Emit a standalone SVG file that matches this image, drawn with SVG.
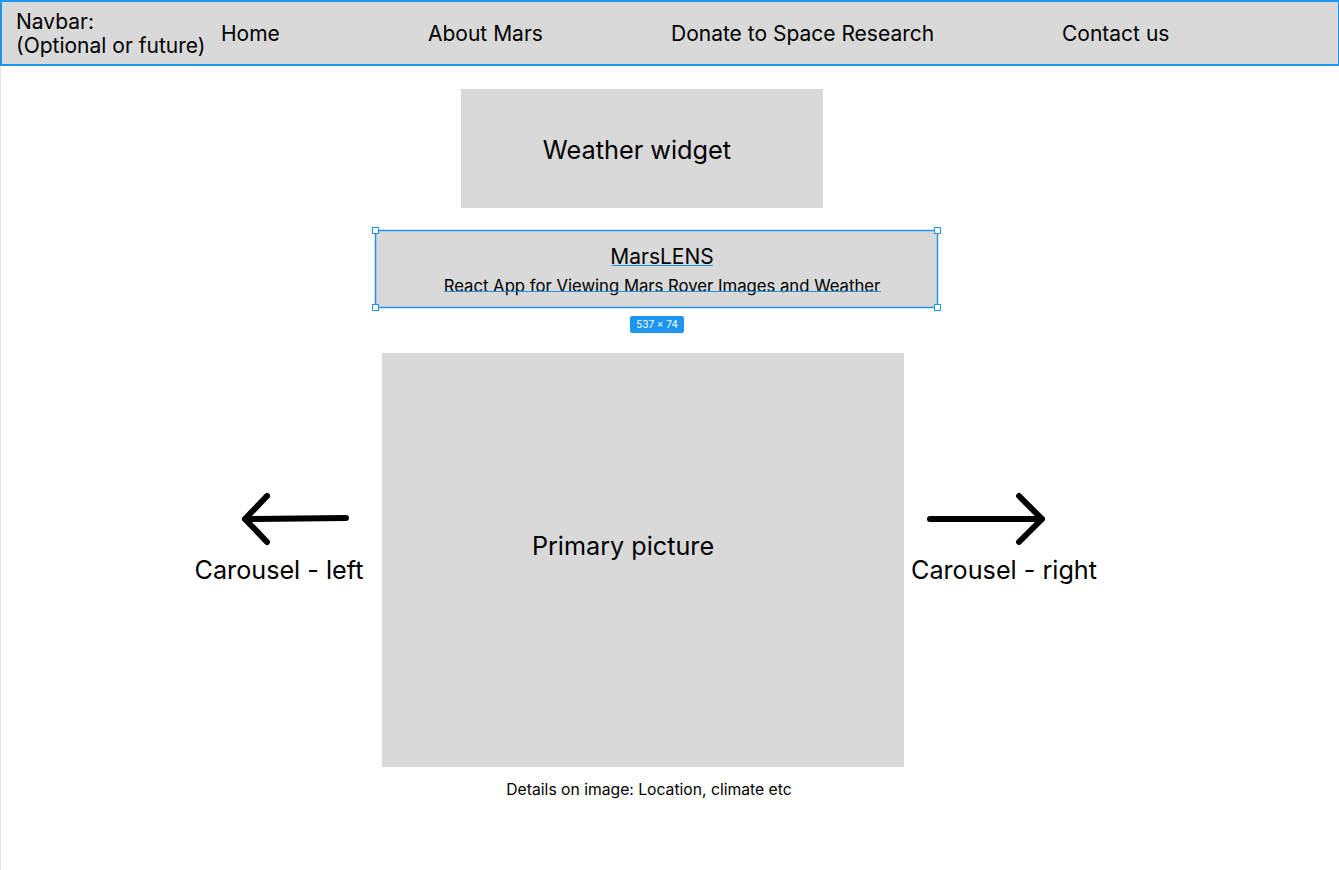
<svg xmlns="http://www.w3.org/2000/svg" width="1339" height="870" viewBox="0 0 1339 870">
<style>
.box{fill:#d9d9d9}
.t{font-family:Inter,"Noto Sans",sans-serif;fill:#000}
.sel{fill:none;stroke:#1e96f0;stroke-width:1.5}
.h{fill:#fff;stroke:#1e96f0;stroke-width:1}
.arr{fill:none;stroke:#000;stroke-width:6;stroke-linecap:round;stroke-linejoin:round}
</style>
<rect x="0" y="0" width="1339" height="870" fill="#fff"/>
<line x1="0.5" y1="0" x2="0.5" y2="870" stroke="#e6e6e6" stroke-width="1"/>
<g id="navbar">
<rect x="1" y="1" width="1338" height="64" class="box" stroke="#1e96f0" stroke-width="2"/>
<text class="t" x="16" y="29" font-size="21">Navbar:</text>
<text class="t" x="16" y="53" font-size="21">(Optional or future)</text>
<text class="t" x="221" y="41" font-size="21">Home</text>
<text class="t" x="428" y="41" font-size="21">About Mars</text>
<text class="t" x="671" y="41" font-size="21">Donate to Space Research</text>
<text class="t" x="1062" y="41" font-size="21">Contact us</text>
</g>
<g id="weather">
<rect x="461" y="89" width="362" height="119" class="box"/>
<text class="t" x="637" y="159" font-size="25.3" text-anchor="middle">Weather widget</text>
</g>
<g id="marslens">
<rect x="375.5" y="230.5" width="562" height="77" class="box"/>
<rect x="375.5" y="230.5" width="562" height="77" class="sel"/>
<text class="t" x="662" y="264" font-size="21" text-anchor="middle">MarsLENS</text>
<line x1="612" y1="265.5" x2="713" y2="265.5" stroke="#1e96f0" stroke-width="1"/>
<text class="t" x="662" y="292" font-size="16.7" text-anchor="middle">React App for Viewing Mars Rover Images and Weather</text>
<line x1="444" y1="291.5" x2="881" y2="291.5" stroke="#1e96f0" stroke-width="1"/>
<rect x="372.5" y="227.5" width="6" height="6" class="h"/>
<rect x="934.5" y="227.5" width="6" height="6" class="h"/>
<rect x="372.5" y="304.5" width="6" height="6" class="h"/>
<rect x="934.5" y="304.5" width="6" height="6" class="h"/>
<rect x="630" y="316" width="54" height="17" rx="2" fill="#1e96f0"/>
<text x="657" y="328" font-size="10" font-family="Inter,sans-serif" fill="#fff" text-anchor="middle">537 × 74</text>
</g>
<g id="primary">
<rect x="382" y="353" width="522" height="414" class="box"/>
<text class="t" x="623" y="555" font-size="25.2" text-anchor="middle">Primary picture</text>
</g>
<g id="details">
<text class="t" x="649" y="795" font-size="15.7" text-anchor="middle">Details on image: Location, climate etc</text>
</g>
<g id="carousel-left">
<text class="t" x="279" y="579" font-size="25.2" text-anchor="middle">Carousel - left</text>
</g>
<g id="carousel-right">
<text class="t" x="1004" y="579" font-size="25.2" text-anchor="middle">Carousel - right</text>
</g>
<g id="connectors">
<path class="arr" d="M346 518 L245 519 M267 496 L245 519 L267 542"/>
<path class="arr" d="M930 519 L1042 519 M1019 496 L1042 519 L1019 542"/>
</g>
</svg>
